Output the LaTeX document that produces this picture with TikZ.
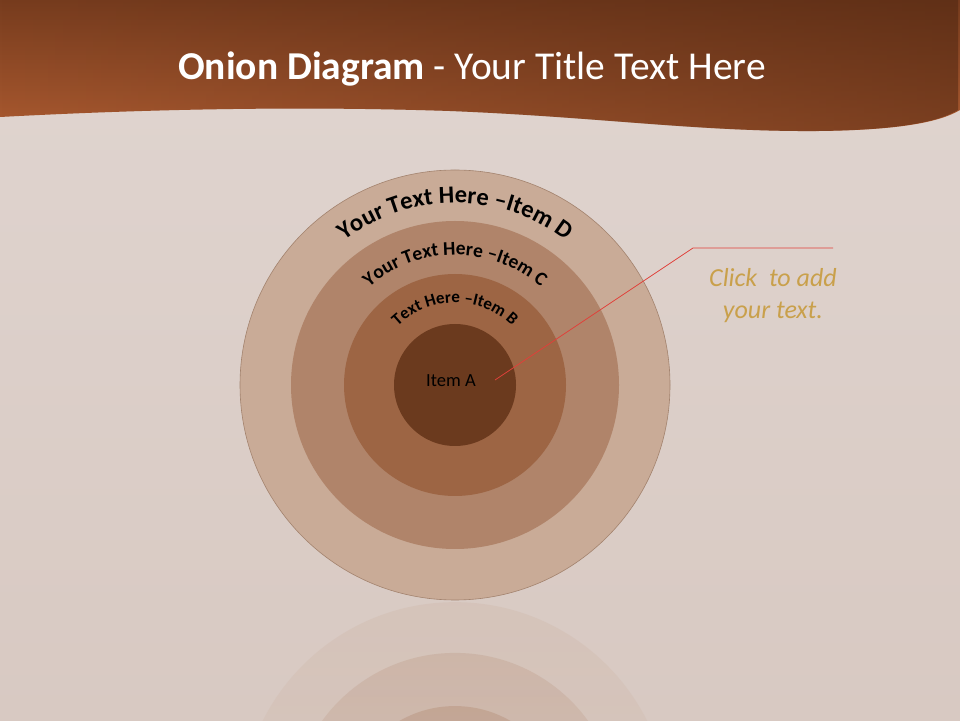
\documentclass[tikz,border=0pt]{standalone}
\usepackage{fontspec}
\setmainfont{Carlito}
\usetikzlibrary{decorations.text,fadings}

\definecolor{bgtop}{HTML}{E0D5D0}
\definecolor{bgbot}{HTML}{D8C9C2}
\definecolor{hdrlight}{HTML}{AB5A30}
\definecolor{hdrmid}{HTML}{773C1E}
\definecolor{hdrdark}{HTML}{4A2410}
\definecolor{ringD}{HTML}{C9AB97}
\definecolor{ringC}{HTML}{B0846A}
\definecolor{ringB}{HTML}{9D6544}
\definecolor{ringA}{HTML}{6B3A1E}
\definecolor{ringedge}{HTML}{A3836E}
\definecolor{callred}{HTML}{E0403A}
\definecolor{clickgold}{HTML}{C9A04B}

\tikzfading[name=reflfade, top color=transparent!78, bottom color=transparent!100]
\tikzfading[name=darkright, left color=transparent!100, right color=transparent!50]

\begin{document}
\begin{tikzpicture}[x=1pt,y=1pt,
  ring/.style={circle, inner sep=0pt, minimum size=#1},
  callline/.style={callred, line width=0.8pt}]
\useasboundingbox (0,0) rectangle (960,720);
\clip (0,0) rectangle (960,720);

% background and header band
\shade[top color=bgtop, bottom color=bgbot] (0,0) rectangle (960,720);
\def\hdrpath{(0,603) .. controls (150,611) and (300,614) .. (450,609)
  .. controls (600,603) and (700,588) .. (820,589)
  .. controls (900,590) and (940,598) .. (960,610)
  -- (960,720) -- (0,720) -- cycle}
\shade[top color=hdrmid, bottom color=hdrlight] \hdrpath;
\fill[hdrdark, path fading=darkright] \hdrpath;
\node[white, anchor=base, font=\fontsize{39.5}{47}\selectfont] (title) at (472,640)
  {\textbf{Onion Diagram} - Your Title Text Here};

% reflection
\fill[ringD, path fading=reflfade] (455,-97) circle[radius=215];
\fill[ringC, path fading=reflfade] (455,-97) circle[radius=164];
\fill[ringB, path fading=reflfade] (455,-97) circle[radius=111];
\fill[ringA, path fading=reflfade] (455,-97) circle[radius=61];

% onion
\coordinate (ctr) at (455,335);
\node[ring=430pt, fill=ringD, draw=ringedge, line width=0.6pt] (itemD) at (ctr) {};
\node[ring=328pt, fill=ringC] (itemC) at (ctr) {};
\node[ring=222pt, fill=ringB] (itemB) at (ctr) {};
\node[ring=122pt, fill=ringA] (itemA) at (ctr) {};
\node[font=\fontsize{18.5}{20}\selectfont, text=black] (labelA) at (451,339) {Item A};

\path[decorate, decoration={text along path, text align=center,
  text={|\bfseries\fontsize{24.5}{24.5}\selectfont|Your Text Here –Item D}}]
  (ctr) ++(170:182) arc[start angle=170, end angle=10, radius=182];
\path[decorate, decoration={text along path, text align=center,
  text={|\bfseries\fontsize{19.5}{19.5}\selectfont|Your Text Here –Item C}}]
  (ctr) ++(170:130) arc[start angle=170, end angle=10, radius=130];
\path[decorate, decoration={text along path, text align=center,
  text={|\bfseries\fontsize{17}{17}\selectfont|Text Here –Item B}}]
  (ctr) ++(170:82) arc[start angle=170, end angle=10, radius=82];

% callout
\coordinate (tip) at (495,340);
\coordinate (elbow) at (693,472);
\coordinate (tail) at (833,472);
\draw[callline] (tip) -- (elbow) -- (tail);
\node[clickgold, align=center, font=\itshape\fontsize{26}{32}\selectfont] (callout) at (773,424)
  {Click\ \ to add\\your text.};
\end{tikzpicture}
\end{document}
